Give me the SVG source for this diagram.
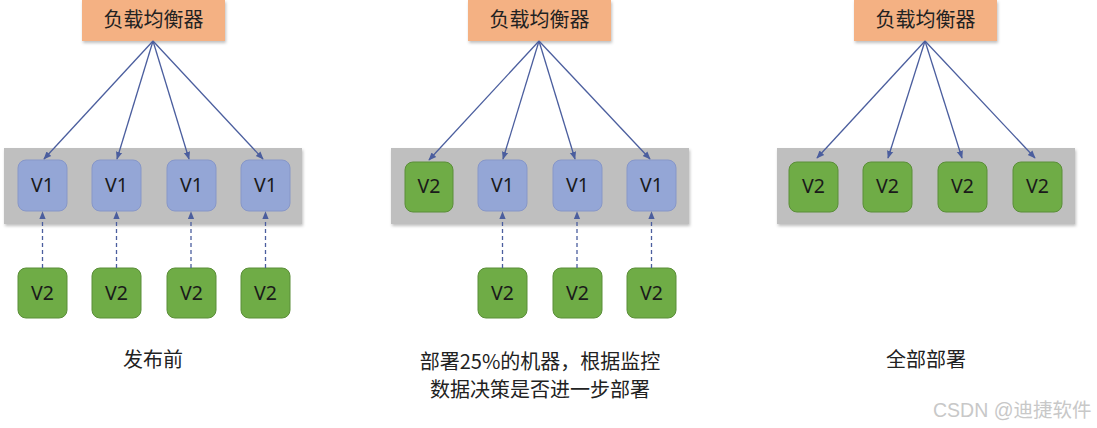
<svg xmlns="http://www.w3.org/2000/svg" width="1097" height="428" viewBox="0 0 1097 428">
<defs>
<filter id="sh" x="-5%" y="-10%" width="110%" height="130%"><feDropShadow dx="1" dy="2" stdDeviation="1.5" flood-color="#000" flood-opacity="0.25"/></filter>
<marker id="ah" viewBox="0 0 10 10" refX="9" refY="5" markerWidth="8" markerHeight="8" markerUnits="userSpaceOnUse" orient="auto"><path d="M0,1 L10,5 L0,9 Z" fill="#4B5E9E"/></marker>
</defs>
<style>
.lb{fill:#F4B183;}
.band{fill:#BFBFBF;}
.v1{fill:#94A6D6;stroke:#8797C8;stroke-width:1;}
.v2{fill:#6FAC46;stroke:#5A8E38;stroke-width:1;}
.t{font-family:"Noto Sans CJK SC","Noto Sans",sans-serif;font-size:20px;fill:#222;text-anchor:middle;}
.vt{font-family:"Noto Sans","Noto Sans CJK SC",sans-serif;font-size:19.5px;fill:#1a1a1a;text-anchor:middle;}
.ln{stroke:#4B5E9E;stroke-width:1.3;fill:none;marker-end:url(#ah);}
.ds{stroke:#4B5E9E;stroke-width:1.3;fill:none;stroke-dasharray:4,3;marker-end:url(#ah);}
.wm{font-family:"Liberation Sans","Noto Sans CJK SC",sans-serif;font-size:19.5px;fill:#c8c8c8;}
</style>
<g id="bands">
<rect class="band" x="4" y="148" width="298" height="76" filter="url(#sh)"/>
<rect class="band" x="391" y="148" width="298" height="76" filter="url(#sh)"/>
<rect class="band" x="777" y="148" width="298" height="76" filter="url(#sh)"/>
</g>
<g id="lb1"><rect class="lb" x="82" y="0" width="143" height="41" filter="url(#sh)"/><text class="t" x="153.5" y="27">负载均衡器</text></g>
<g id="lb2"><rect class="lb" x="468" y="0" width="143" height="41" filter="url(#sh)"/><text class="t" x="539.5" y="27">负载均衡器</text></g>
<g id="lb3"><rect class="lb" x="854" y="0" width="143" height="41" filter="url(#sh)"/><text class="t" x="925.5" y="27">负载均衡器</text></g>

<g id="p1a"><rect class="v1" x="18" y="160" width="49" height="51" rx="8"/><text class="vt" x="42.5" y="192">V1</text></g>
<g id="p1b"><rect class="v1" x="92" y="160" width="49" height="51" rx="8"/><text class="vt" x="116.5" y="192">V1</text></g>
<g id="p1c"><rect class="v1" x="167" y="160" width="49" height="51" rx="8"/><text class="vt" x="191.5" y="192">V1</text></g>
<g id="p1d"><rect class="v1" x="241" y="160" width="49" height="51" rx="8"/><text class="vt" x="265.5" y="192">V1</text></g>
<g id="p1e"><rect class="v2" x="18" y="268" width="49" height="50" rx="8"/><text class="vt" x="42.5" y="300">V2</text></g>
<g id="p1f"><rect class="v2" x="92" y="268" width="49" height="50" rx="8"/><text class="vt" x="116.5" y="300">V2</text></g>
<g id="p1g"><rect class="v2" x="167" y="268" width="49" height="50" rx="8"/><text class="vt" x="191.5" y="300">V2</text></g>
<g id="p1h"><rect class="v2" x="241" y="268" width="49" height="50" rx="8"/><text class="vt" x="265.5" y="300">V2</text></g>

<g id="p2a"><rect class="v2" x="405" y="162" width="48" height="50" rx="8"/><text class="vt" x="429" y="193">V2</text></g>
<g id="p2b"><rect class="v1" x="478" y="160" width="49" height="51" rx="8"/><text class="vt" x="502.5" y="192">V1</text></g>
<g id="p2c"><rect class="v1" x="553" y="160" width="49" height="51" rx="8"/><text class="vt" x="577.5" y="192">V1</text></g>
<g id="p2d"><rect class="v1" x="627" y="160" width="49" height="51" rx="8"/><text class="vt" x="651.5" y="192">V1</text></g>
<g id="p2e"><rect class="v2" x="478" y="268" width="49" height="50" rx="8"/><text class="vt" x="502.5" y="300">V2</text></g>
<g id="p2f"><rect class="v2" x="553" y="268" width="49" height="50" rx="8"/><text class="vt" x="577.5" y="300">V2</text></g>
<g id="p2g"><rect class="v2" x="627" y="268" width="49" height="50" rx="8"/><text class="vt" x="651.5" y="300">V2</text></g>

<g id="p3a"><rect class="v2" x="789" y="162" width="49" height="50" rx="8"/><text class="vt" x="813.5" y="193">V2</text></g>
<g id="p3b"><rect class="v2" x="863" y="162" width="49" height="50" rx="8"/><text class="vt" x="887.5" y="193">V2</text></g>
<g id="p3c"><rect class="v2" x="938" y="162" width="49" height="50" rx="8"/><text class="vt" x="962.5" y="193">V2</text></g>
<g id="p3d"><rect class="v2" x="1013" y="162" width="49" height="50" rx="8"/><text class="vt" x="1037.5" y="193">V2</text></g>

<g id="connectors">
<line class="ln" x1="153" y1="41" x2="44" y2="159"/>
<line class="ln" x1="153" y1="41" x2="117" y2="159"/>
<line class="ln" x1="153" y1="41" x2="189" y2="159"/>
<line class="ln" x1="153" y1="41" x2="263" y2="159"/>
<line class="ds" x1="42.5" y1="268" x2="42.5" y2="212"/>
<line class="ds" x1="116.5" y1="268" x2="116.5" y2="212"/>
<line class="ds" x1="191" y1="268" x2="191" y2="212"/>
<line class="ds" x1="265.5" y1="268" x2="265.5" y2="212"/>

<line class="ln" x1="539" y1="41" x2="429" y2="160"/>
<line class="ln" x1="539" y1="41" x2="503" y2="159"/>
<line class="ln" x1="539" y1="41" x2="575" y2="159"/>
<line class="ln" x1="539" y1="41" x2="650" y2="159"/>
<line class="ds" x1="502.5" y1="268" x2="502.5" y2="212"/>
<line class="ds" x1="577" y1="268" x2="577" y2="212"/>
<line class="ds" x1="651.5" y1="268" x2="651.5" y2="212"/>

<line class="ln" x1="925" y1="41" x2="817" y2="158"/>
<line class="ln" x1="925" y1="41" x2="888" y2="158"/>
<line class="ln" x1="925" y1="41" x2="962" y2="158"/>
<line class="ln" x1="925" y1="41" x2="1035" y2="158"/>
</g>

<g id="captions">
<text class="t" x="153" y="367">发布前</text>
<text class="t" x="540" y="369">部署25%的机器，根据监控</text>
<text class="t" x="540" y="397">数据决策是否进一步部署</text>
<text class="t" x="926" y="367">全部部署</text>
</g>
<text class="wm" x="933" y="417">CSDN @迪捷软件</text>
</svg>
